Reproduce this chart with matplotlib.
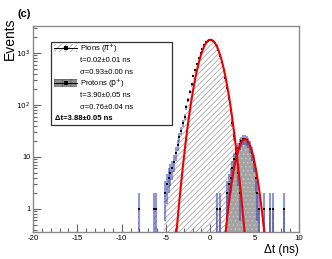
import numpy as np
import matplotlib
matplotlib.use("Agg")
import matplotlib.pyplot as plt
from matplotlib.patches import Rectangle
from matplotlib.lines import Line2D
from matplotlib.ticker import LogLocator, MultipleLocator, FixedLocator, FixedFormatter

plt.rcParams['font.family'] = ['Liberation Sans', 'DejaVu Sans']
plt.rcParams['hatch.linewidth'] = 0.6

# ---------------- data ----------------
bin_width = 0.2
pion_x = [-8.1, -6.3, -6.1, -5.1, -4.9, -4.7, -4.5, -4.3, -4.1, -3.9, -3.7, -3.5, -3.3,
          -3.1, -2.9, -2.7, -2.5, -2.3, -2.1, -1.9, -1.7, -1.5, -1.3, -1.1, -0.9, -0.7,
          -0.5, -0.3, -0.1, 0.1, 0.3, 0.5, 0.7, 0.9, 1.1, 1.3, 1.5, 1.7, 1.9, 2.1, 2.3,
          2.5, 2.7, 2.9, 3.1, 3.3]
pion_n = [1, 1, 1, 2, 3, 4, 5, 6, 8, 12, 17, 24, 32,
          45, 60, 90, 125, 180, 250, 360, 470, 620, 800, 1000, 1200, 1420,
          1600, 1730, 1800, 1790, 1720, 1570, 1360, 1120, 890, 670, 480, 330, 215, 135, 80,
          45, 25, 12, 5, 2]

proton_x = [0.7, 1.1, 1.9, 2.1, 2.3, 2.5, 2.7, 2.9, 3.1, 3.3, 3.5, 3.7, 3.9, 4.1, 4.3,
            4.5, 4.7, 4.9, 5.1, 5.3, 5.5, 6.1, 6.7, 7.1, 8.3]
proton_n = [1, 1, 2, 3, 4, 6, 9, 12, 15, 18, 20, 22, 22, 21, 19,
            16, 12, 8, 4, 2, 1, 1, 1, 1, 1]

# fit parameters (from legend), amplitudes
pion_t, pion_sigma, pion_amp = 0.02, 0.93, 1800
proton_t, proton_sigma, proton_amp = 3.90, 0.76, 22

xticks = [-20, -15, -10, -5, 0, 5, 10]

# ---------------- figure ----------------
W, H = 332, 259
fig = plt.figure(figsize=(W / 100, H / 100), dpi=100)
ax = fig.add_axes([33 / W, 1 - 232 / H, 266 / W, 206 / H])
ax.set_yscale('log')
ax.set_xlim(-20, 10)
ax.set_ylim(0.36, 3310)

def edges_vals(xs, ns):
    xs = np.asarray(xs, float)
    lo = xs.min() - bin_width / 2
    hi = xs.max() + bin_width / 2
    nb = int(round((hi - lo) / bin_width))
    edges = lo + bin_width * np.arange(nb + 1)
    vals = np.full(nb, 1e-3)
    for x, n in zip(xs, ns):
        i = int(round((x - lo) / bin_width - 0.5))
        vals[i] = n
    return vals, edges

pv, pe = edges_vals(pion_x, pion_n)
ax.stairs(pv, pe, fill=True, baseline=1e-3, facecolor='white',
          edgecolor='#a8a8a8', hatch='//////', linewidth=0, zorder=1)
qv, qe = edges_vals(proton_x, proton_n)
ax.stairs(qv, qe, fill=True, baseline=1e-3, facecolor='#a3a3a3',
          edgecolor='#c4c4c4', hatch='....', linewidth=0, zorder=2)

errc = (0.22, 0.27, 0.68, 0.55)
for xs, ns in ((pion_x, pion_n), (proton_x, proton_n)):
    xs = np.asarray(xs, float)
    ns = np.asarray(ns, float)
    lo = np.maximum(ns - np.sqrt(ns), 1e-3)
    hi = ns + np.sqrt(ns)
    ax.vlines(xs, lo, hi, colors=[errc], linewidth=1.5, zorder=3)
    ax.plot(xs, ns, 's', color='black', ms=1.9, mew=0, zorder=4)

xf = np.linspace(-6, 6, 600)
ax.plot(xf, pion_amp * np.exp(-0.5 * ((xf - pion_t) / pion_sigma) ** 2),
        color='#ee0000', lw=1.5, zorder=5)
xf2 = np.linspace(0, 8, 500)
ax.plot(xf2, proton_amp * np.exp(-0.5 * ((xf2 - proton_t) / proton_sigma) ** 2),
        color='#ee0000', lw=1.5, zorder=5)

# axes style (ROOT-like)
for s in ax.spines.values():
    s.set_color('#8a8a8a')
    s.set_linewidth(1.0)
ax.xaxis.set_major_locator(FixedLocator(xticks))
ax.xaxis.set_minor_locator(MultipleLocator(1))
ax.yaxis.set_minor_locator(LogLocator(base=10, subs=np.arange(2, 10), numticks=20))
ax.tick_params(which='both', direction='in', top=False, right=False, color='#666666')
ax.tick_params(which='major', length=6, width=0.8, labelsize=5.6, pad=2)
ax.tick_params(which='minor', length=3, width=0.8)
ax.set_yticks([1, 10, 100, 1000])
ax.set_yticklabels(['1', '10', r'$10^{2}$', r'$10^{3}$'], fontsize=5.3)
ax.set_xticks(xticks)
ax.set_xticklabels([str(t) for t in xticks], fontsize=5.6)

fig.text(10 / W, 1 - 18 / H, 'Events', rotation=90, ha='center', va='top', fontsize=10)
fig.text(299 / W, 1 - 250 / H, 'Δt (ns)', ha='right', va='center', fontsize=8.5)
fig.text(18 / W, 1 - 14 / H, '(c)', ha='left', va='center', fontsize=8, weight='bold')

# legend (drawn manually)
def fx(p): return p / W
def fy(p): return 1 - p / H
fig.add_artist(Rectangle((fx(51), fy(125)), fx(172) - fx(51), fy(42) - fy(125),
                         transform=fig.transFigure, facecolor='white',
                         edgecolor='#333333', lw=0.9, zorder=10))
fig.add_artist(Rectangle((fx(54), fy(52)), fx(77) - fx(54), fy(44) - fy(52),
                         transform=fig.transFigure, facecolor='white',
                         edgecolor='#a8a8a8', hatch='//////', lw=0, zorder=11))
fig.add_artist(Rectangle((fx(54), fy(87)), fx(77) - fx(54), fy(79) - fy(87),
                         transform=fig.transFigure, facecolor='#8c8c8c',
                         edgecolor='#5a5a5a', hatch='++', lw=0, zorder=11))
for yy in (48, 83):
    fig.add_artist(Line2D([fx(54), fx(77)], [fy(yy), fy(yy)], transform=fig.transFigure,
                          color='black', lw=0.7, zorder=12))
    fig.add_artist(Line2D([fx(65.5)], [fy(yy)], transform=fig.transFigure, marker='s',
                          color='black', ms=2.5, mew=0, zorder=12))
fs = 5.5
lines = [(80, 48, r'Pions ($\pi^{+}$)', 'normal'),
         (80, 60, 't=0.02±0.01 ns', 'normal'),
         (80, 72, 'σ=0.93±0.00 ns', 'normal'),
         (80, 83, r'Protons ($\mathrm{p}^{+}$)', 'normal'),
         (80, 96, 't=3.90±0.05 ns', 'normal'),
         (80, 107, 'σ=0.76±0.04 ns', 'normal'),
         (55, 118, 'Δt=3.88±0.05 ns', 'bold')]
for x, y, s, w in lines:
    fig.text(fx(x), fy(y), s, ha='left', va='center', fontsize=fs, weight=w, zorder=13)

fig.savefig('out.png', dpi=100)
